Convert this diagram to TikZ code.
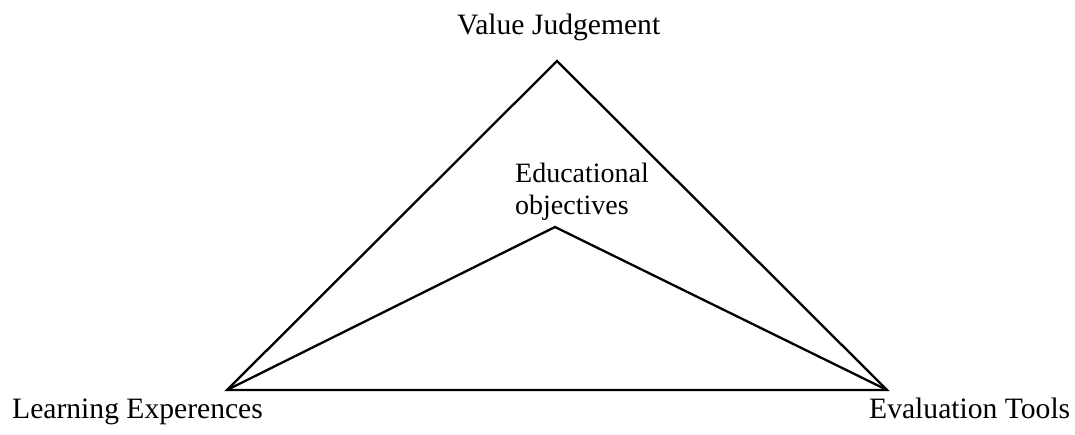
\documentclass[tikz,border=0pt]{standalone}
\usepackage{fontspec}
\setmainfont{Liberation Serif}
\begin{document}
\begin{tikzpicture}[x=1pt,y=-1pt,
  edge/.style={line width=2.3pt,line join=miter},
  lbl/.style={inner sep=0pt,anchor=base west,font=\fontsize{29.6}{33}\selectfont},
  lblsmall/.style={inner sep=0pt,anchor=base west,align=left,font=\fontsize{28}{32}\selectfont}]
\useasboundingbox (0,0) rectangle (1075,435);
\coordinate (apex) at (557,61);
\coordinate (left) at (227,390);
\coordinate (right) at (887,390);
\coordinate (inner) at (555,227);
\draw[edge] (apex) -- (left) -- (right) -- cycle;
\draw[edge] (left) -- (inner) -- (right);
\node[lbl] (vj) at (457,35) {Value Judgement};
\node[lblsmall] (eo) at (515,215) {Educational\\objectives};
\node[lbl] (le) at (12,418) {Learning Experences};
\node[lbl] (et) at (869,418) {Evaluation Tools};
\end{tikzpicture}
\end{document}
